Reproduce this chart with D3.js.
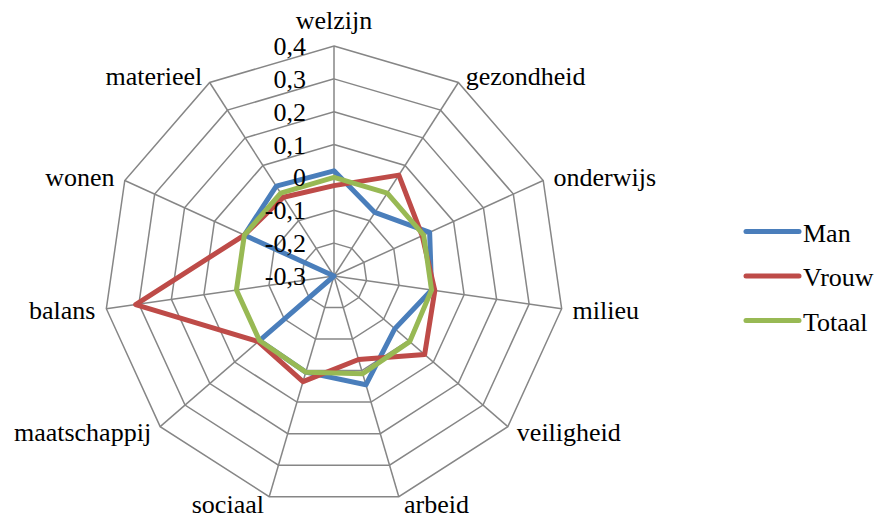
<!DOCTYPE html>
<html>
<head>
<meta charset="utf-8">
<script src="https://cdn.jsdelivr.net/npm/d3@7"></script>
</head>
<body style="margin:0">
<svg id="radar" width="878" height="520" font-family="Times New Roman" font-size="26"></svg>
<script>
const categories = ["welzijn", "gezondheid", "onderwijs", "milieu", "veiligheid", "arbeid", "sociaal", "maatschappij", "balans", "wonen", "materieel"];
const seriesNames = ["Man", "Vrouw", "Totaal"];
const man    = [0.02, -0.07, 0.02, 0.0, -0.055, 0.045, 0.005, 0.0, -0.3, 0.0, 0.025];
const vrouw  = [-0.025, 0.065, -0.005, 0.01, 0.065, -0.035, 0.035, 0.005, 0.31, 0.0, -0.015];
const totaal = [0.0, 0.0, 0.0, 0.0, 0.005, 0.01, 0.005, 0.0, 0.0, 0.0, 0.0];
const tickValues = [-0.3, -0.2, -0.1, 0, 0.1, 0.2, 0.3, 0.4];
const tickLabels = ["-0,3", "-0,2", "-0,1", "0", "0,1", "0,2", "0,3", "0,4"];
const colors = ["#4A7EBB", "#BE4B48", "#98B954"];

const svg = d3.select("#radar");
const cx = 334, cy = 276, R = 230;
const r = d3.scaleLinear().domain([-0.3, 0.4]).range([0, R]);
const ang = c => categories.indexOf(c) * 2 * Math.PI / categories.length;
const pt = (c, rad) => [cx + rad * Math.sin(ang(c)), cy - rad * Math.cos(ang(c))];

const grid = svg.append("g");
tickValues.slice(1).forEach(v => {
  grid.append("polygon")
    .attr("points", categories.map(c => pt(c, r(v)).join(",")).join(" "))
    .attr("fill", "none").attr("stroke", "#868686").attr("stroke-width", 1.5);
});
categories.forEach(c => {
  const p = pt(c, R);
  grid.append("line").attr("x1", cx).attr("y1", cy).attr("x2", p[0]).attr("y2", p[1])
    .attr("stroke", "#868686").attr("stroke-width", 1.5);
});

const data = [man, vrouw, totaal];
const line = d3.lineRadial().angle((d, i) => ang(categories[i])).radius(d => r(d)).curve(d3.curveLinearClosed);
data.forEach((vals, k) => {
  svg.append("path")
    .attr("transform", `translate(${cx},${cy})`)
    .attr("d", line(vals))
    .attr("fill", "none")
    .attr("stroke", colors[k])
    .attr("stroke-width", 5)
    .attr("stroke-linejoin", "round");
});

tickValues.forEach((v, i) => {
  svg.append("text")
    .attr("x", cx - 28).attr("y", cy - r(v) + 9)
    .attr("text-anchor", "end")
    .text(tickLabels[i]);
});

categories.forEach(c => {
  const a = ang(c);
  const dx = Math.sin(a), dy = -Math.cos(a);
  const p = pt(c, R + 8);
  const t = svg.append("text").text(c);
  if (Math.abs(dx) < 0.01) {
    t.attr("x", p[0]).attr("y", dy < 0 ? p[1] - 9 : p[1] + 26).attr("text-anchor", "middle");
  } else {
    t.attr("x", p[0] + (dx > 0 ? 3 : -3)).attr("y", p[1] + 9)
     .attr("text-anchor", dx > 0 ? "start" : "end");
  }
});

const lg = svg.append("g");
seriesNames.forEach((s, i) => {
  const y = 231.5 + i * 44.5;
  lg.append("line").attr("x1", 746).attr("x2", 799).attr("y1", y).attr("y2", y)
    .attr("stroke", colors[i]).attr("stroke-width", 5).attr("stroke-linecap", "round");
  lg.append("text").attr("x", 803).attr("y", y + 10).text(s);
});
</script>
</body>
</html>
